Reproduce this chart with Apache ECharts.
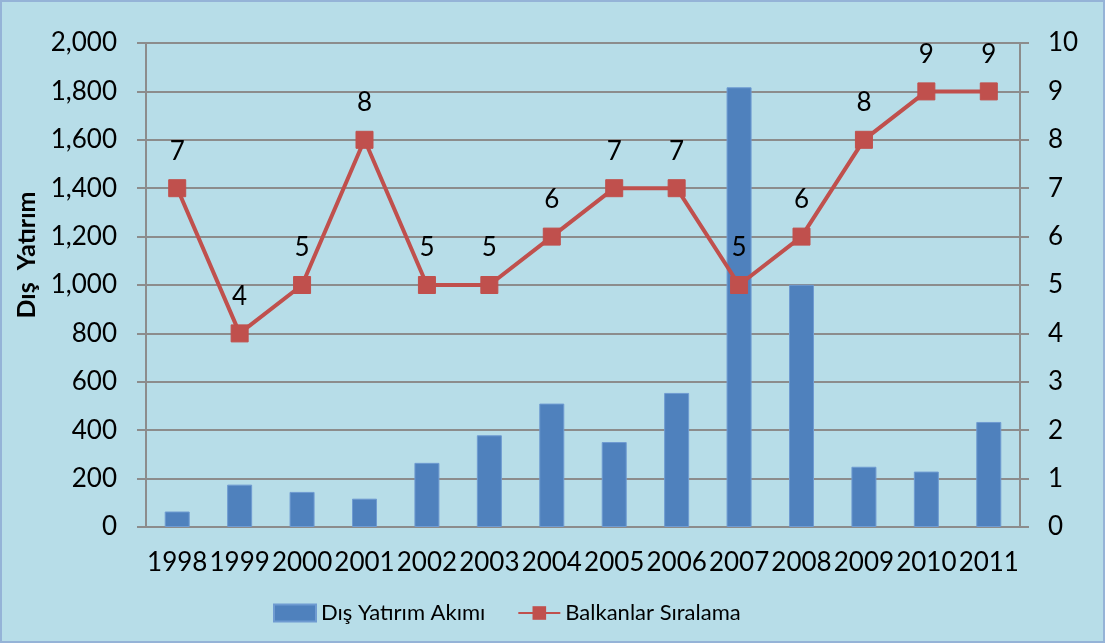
<!DOCTYPE html>
<html lang="tr">
<head>
    <meta charset="UTF-8">
    <title>Dış Yatırım Akımı ve Balkanlar Sıralama</title>
    <script src="https://cdn.jsdelivr.net/npm/echarts@6/dist/echarts.min.js"></script>
    <style>
        html, body { margin: 0; padding: 0; background: #b7dde8; }
        #main { width: 1105px; height: 643px; box-sizing: border-box; border: 2px solid #95b3d7; }
    </style>
</head>
<body>
<div id="main"></div>

<script type="text/javascript">
    // veriler
    var years = ['1998', '1999', '2000', '2001', '2002', '2003', '2004', '2005', '2006', '2007', '2008', '2009', '2010', '2011'];
    var yatirim = [64, 175, 145, 117, 265, 379, 510, 351, 554, 1817, 1001, 249, 229, 434];
    var siralama = [7, 4, 5, 8, 5, 5, 6, 7, 7, 5, 6, 8, 9, 9];

    var font = 'Lato, "Open Sans", sans-serif';
    var myChart = echarts.init(document.getElementById('main'));

    var option = {
        backgroundColor: '#b7dde8',
        textStyle: { fontFamily: font },
        grid: { left: 144, right: 83, top: 41, bottom: 114 },
        legend: {
            bottom: 12,
            left: 266,
            itemWidth: 42,
            itemHeight: 17,
            itemGap: 32,
            textStyle: { fontSize: 22, color: '#000', fontFamily: font },
            data: [
                { name: 'Dış Yatırım Akımı', icon: 'rect' },
                { name: 'Balkanlar Sıralama' }
            ]
        },
        xAxis: {
            type: 'category',
            data: years,
            boundaryGap: true,
            axisLine: { lineStyle: { color: '#8c8c8c', width: 2 } },
            axisTick: { length: 9, lineStyle: { color: '#8c8c8c', width: 2 } },
            axisLabel: { color: '#000', fontSize: 26, margin: 23, interval: 0 }
        },
        yAxis: [
            {
                type: 'value',
                min: 0, max: 2000, interval: 200,
                name: 'Dış  Yatırım',
                nameLocation: 'middle',
                nameGap: 100,
                nameRotate: 90,
                nameTextStyle: { fontSize: 25, fontWeight: 'bold', color: '#000', padding: [0, 0, 0, 60] },
                axisLine: { show: true, lineStyle: { color: '#8c8c8c', width: 2 } },
                axisTick: { show: true, length: 9, lineStyle: { color: '#8c8c8c', width: 2 } },
                axisLabel: {
                    color: '#000', fontSize: 26, margin: 29,
                    formatter: function (v) { return v.toLocaleString('en-US'); }
                },
                splitLine: { lineStyle: { color: '#8c8c8c', width: 2 } }
            },
            {
                type: 'value',
                min: 0, max: 10, interval: 1,
                position: 'right',
                axisLine: { show: true, lineStyle: { color: '#8c8c8c', width: 2 } },
                axisTick: { show: true, length: 9, lineStyle: { color: '#8c8c8c', width: 2 } },
                axisLabel: { color: '#000', fontSize: 26, margin: 28 },
                splitLine: { show: false }
            }
        ],
        series: [
            {
                name: 'Dış Yatırım Akımı',
                type: 'bar',
                data: yatirim,
                barWidth: 25,
                itemStyle: { color: '#4f81bd', borderColor: '#6f9bd1', borderWidth: 1 }
            },
            {
                name: 'Balkanlar Sıralama',
                type: 'line',
                yAxisIndex: 1,
                data: siralama,
                symbol: 'rect',
                symbolSize: 17,
                lineStyle: { color: '#c0504d', width: 4 },
                itemStyle: { color: '#c0504d', borderColor: '#c0504d' },
                label: { show: true, position: 'top', distance: 15, fontSize: 26, color: '#000' },
                z: 5
            }
        ]
    };

    myChart.setOption(option);
</script>
</body>
</html>
